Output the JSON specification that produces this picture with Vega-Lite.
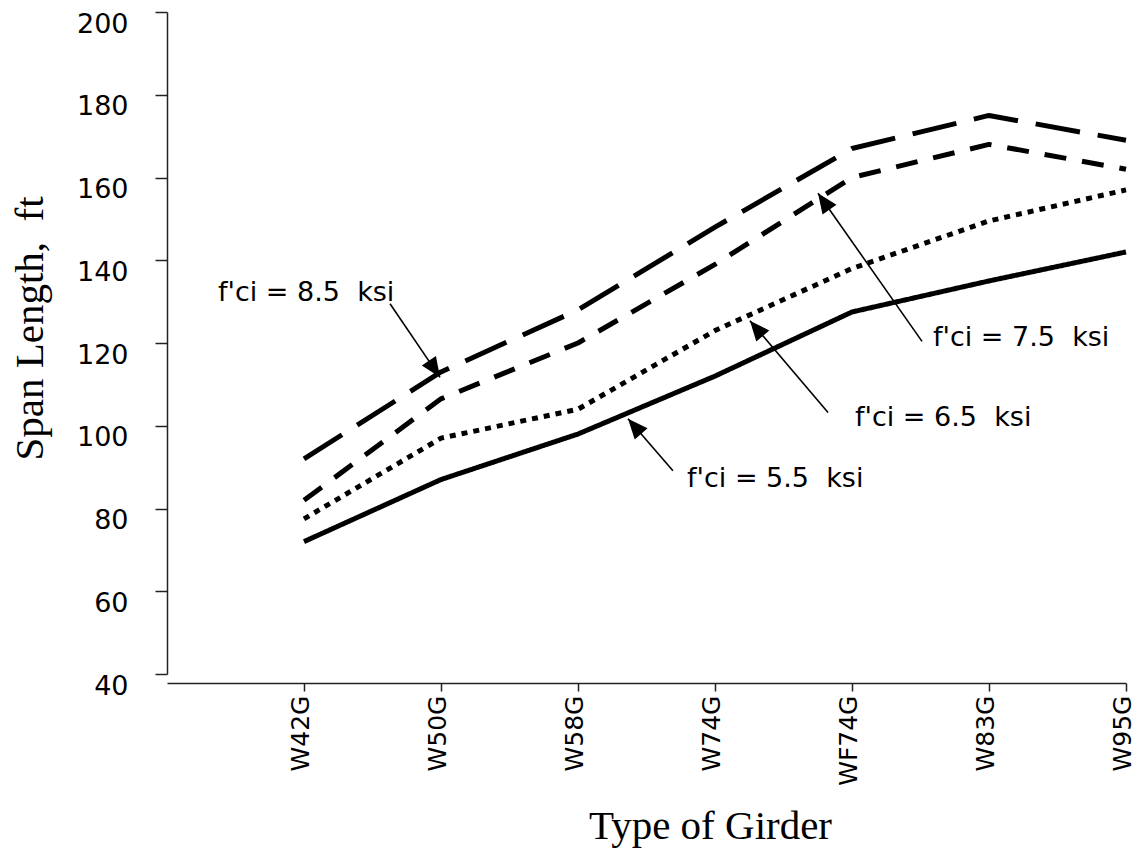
{
  "$schema": "https://vega.github.io/schema/vega-lite/v6.json",
  "width": 959,
  "height": 662,
  "autosize": {"type": "none"},
  "padding": {"left": 167, "top": 12, "right": 12, "bottom": 176},
  "background": "white",
  "config": {
    "view": {"stroke": null},
    "axis": {"grid": false, "domainColor": "#222", "tickColor": "#222", "labelColor": "#000", "titleColor": "#000", "domainWidth": 1.5, "tickWidth": 1.5}
  },
  "datasets": {
    "spans": [
      {"girder": "W42G", "pos": 1, "fci": "5.5", "span": 72},
      {"girder": "W50G", "pos": 2, "fci": "5.5", "span": 87},
      {"girder": "W58G", "pos": 3, "fci": "5.5", "span": 98},
      {"girder": "W74G", "pos": 4, "fci": "5.5", "span": 112},
      {"girder": "WF74G", "pos": 5, "fci": "5.5", "span": 127.5},
      {"girder": "W83G", "pos": 6, "fci": "5.5", "span": 135},
      {"girder": "W95G", "pos": 7, "fci": "5.5", "span": 142},
      {"girder": "W42G", "pos": 1, "fci": "6.5", "span": 77.5},
      {"girder": "W50G", "pos": 2, "fci": "6.5", "span": 97},
      {"girder": "W58G", "pos": 3, "fci": "6.5", "span": 104},
      {"girder": "W74G", "pos": 4, "fci": "6.5", "span": 123},
      {"girder": "WF74G", "pos": 5, "fci": "6.5", "span": 138},
      {"girder": "W83G", "pos": 6, "fci": "6.5", "span": 149.5},
      {"girder": "W95G", "pos": 7, "fci": "6.5", "span": 157},
      {"girder": "W42G", "pos": 1, "fci": "7.5", "span": 82},
      {"girder": "W50G", "pos": 2, "fci": "7.5", "span": 106.5},
      {"girder": "W58G", "pos": 3, "fci": "7.5", "span": 120},
      {"girder": "W74G", "pos": 4, "fci": "7.5", "span": 139},
      {"girder": "WF74G", "pos": 5, "fci": "7.5", "span": 160},
      {"girder": "W83G", "pos": 6, "fci": "7.5", "span": 168},
      {"girder": "W95G", "pos": 7, "fci": "7.5", "span": 162},
      {"girder": "W42G", "pos": 1, "fci": "8.5", "span": 92},
      {"girder": "W50G", "pos": 2, "fci": "8.5", "span": 113},
      {"girder": "W58G", "pos": 3, "fci": "8.5", "span": 128},
      {"girder": "W74G", "pos": 4, "fci": "8.5", "span": 148},
      {"girder": "WF74G", "pos": 5, "fci": "8.5", "span": 167},
      {"girder": "W83G", "pos": 6, "fci": "8.5", "span": 175},
      {"girder": "W95G", "pos": 7, "fci": "8.5", "span": 169}
    ],
    "notes": [
      {"fci": "8.5", "text": "f'ci = 8.5\u00a0 ksi", "tx": 0.372, "ty": 132.2, "ax": 1.628, "ay": 129.5, "hx": 1.993, "hy": 111.7},
      {"fci": "7.5", "text": "f'ci = 7.5\u00a0 ksi", "tx": 5.591, "ty": 121.3, "ax": 5.511, "ay": 120.4, "hx": 4.752, "hy": 156.2},
      {"fci": "6.5", "text": "f'ci = 6.5\u00a0 ksi", "tx": 5.022, "ty": 101.9, "ax": 4.825, "ay": 103.2, "hx": 4.255, "hy": 125.4},
      {"fci": "5.5", "text": "f'ci = 5.5\u00a0 ksi", "tx": 3.796, "ty": 87.2, "ax": 3.693, "ay": 89.1, "hx": 3.365, "hy": 101.7}
    ]
  },
  "layer": [
    {
      "data": {"name": "spans"},
      "mark": {"type": "line", "color": "black", "strokeWidth": 5, "strokeCap": "butt", "strokeJoin": "round"},
      "encoding": {
        "x": {
          "field": "pos", "type": "quantitative",
          "scale": {"domain": [0, 7], "nice": false, "zero": false},
          "axis": {
            "values": [1, 2, 3, 4, 5, 6, 7],
            "labelExpr": "['', 'W42G', 'W50G', 'W58G', 'W74G', 'WF74G', 'W83G', 'W95G'][datum.value]",
            "offset": 9, "tickSize": 8, "labelAngle": -90, "labelAlign": "right", "labelBaseline": "middle",
            "labelOffset": -4, "labelPadding": 4, "labelFont": "DejaVu Sans", "labelFontSize": 25,
            "title": "Type of Girder", "titleFont": "Liberation Serif", "titleFontSize": 41, "titleFontWeight": "normal",
            "titleX": 543, "titleY": 155, "titleAlign": "center", "titleBaseline": "alphabetic"
          }
        },
        "y": {
          "field": "span", "type": "quantitative",
          "scale": {"domain": [40, 200], "nice": false, "zero": false},
          "axis": {
            "values": [40, 60, 80, 100, 120, 140, 160, 180, 200],
            "tickSize": 12, "labelPadding": 27, "labelOffset": 12, "labelFont": "DejaVu Sans", "labelFontSize": 27,
            "title": "Span Length,\u00a0 ft", "titleFont": "Liberation Serif", "titleFontSize": 41, "titleFontWeight": "normal",
            "titleX": -125, "titleY": 316, "titleAlign": "center", "titleBaseline": "alphabetic", "titleAngle": -90
          }
        },
        "strokeDash": {
          "field": "fci", "type": "nominal",
          "scale": {"domain": ["5.5", "6.5", "7.5", "8.5"], "range": [[1, 0], [6, 6], [22, 16], [45, 18]]},
          "legend": null
        }
      }
    },
    {
      "data": {"name": "notes"},
      "mark": {"type": "text", "align": "left", "baseline": "middle", "font": "DejaVu Sans", "fontSize": 27, "color": "black"},
      "encoding": {
        "x": {"field": "tx", "type": "quantitative"},
        "y": {"field": "ty", "type": "quantitative"},
        "text": {"field": "text"}
      }
    },
    {
      "data": {"name": "notes"},
      "mark": {"type": "rule", "color": "black", "strokeWidth": 1.6},
      "encoding": {
        "x": {"field": "ax", "type": "quantitative"},
        "y": {"field": "ay", "type": "quantitative"},
        "x2": {"field": "hx"},
        "y2": {"field": "hy"}
      }
    },
    {
      "data": {"name": "notes"},
      "transform": [{"filter": "datum.fci === '8.5'"}],
      "mark": {"type": "point", "shape": "M0,0 L-0.85,2 L0.85,2 Z", "size": 400, "filled": true, "color": "black", "opacity": 1, "angle": 146},
      "encoding": {"x": {"field": "hx", "type": "quantitative"}, "y": {"field": "hy", "type": "quantitative"}}
    },
    {
      "data": {"name": "notes"},
      "transform": [{"filter": "datum.fci === '7.5'"}],
      "mark": {"type": "point", "shape": "M0,0 L-0.85,2 L0.85,2 Z", "size": 400, "filled": true, "color": "black", "opacity": 1, "angle": 325},
      "encoding": {"x": {"field": "hx", "type": "quantitative"}, "y": {"field": "hy", "type": "quantitative"}}
    },
    {
      "data": {"name": "notes"},
      "transform": [{"filter": "datum.fci === '6.5'"}],
      "mark": {"type": "point", "shape": "M0,0 L-0.85,2 L0.85,2 Z", "size": 400, "filled": true, "color": "black", "opacity": 1, "angle": 320},
      "encoding": {"x": {"field": "hx", "type": "quantitative"}, "y": {"field": "hy", "type": "quantitative"}}
    },
    {
      "data": {"name": "notes"},
      "transform": [{"filter": "datum.fci === '5.5'"}],
      "mark": {"type": "point", "shape": "M0,0 L-0.85,2 L0.85,2 Z", "size": 400, "filled": true, "color": "black", "opacity": 1, "angle": 319},
      "encoding": {"x": {"field": "hx", "type": "quantitative"}, "y": {"field": "hy", "type": "quantitative"}}
    }
  ]
}
